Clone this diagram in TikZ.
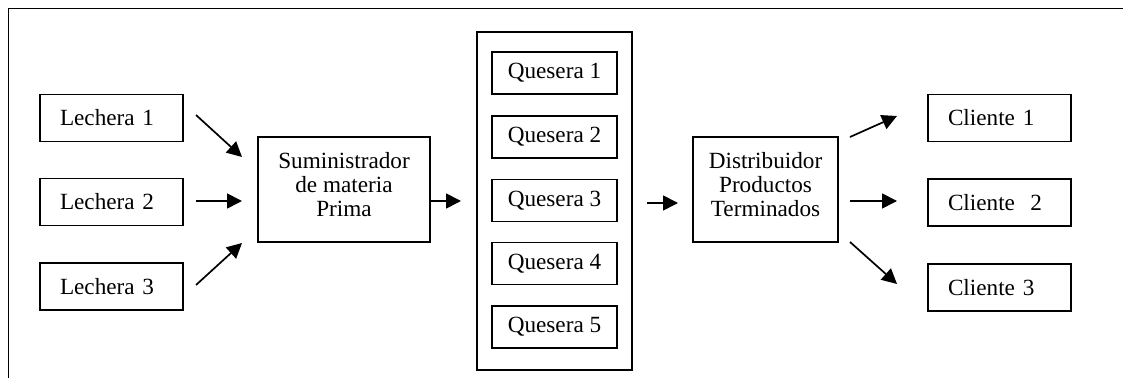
\documentclass[tikz,border=0pt]{standalone}
\usepackage{fontspec}
\setmainfont{Liberation Serif}
\usetikzlibrary{arrows.meta}
\begin{document}
\begin{tikzpicture}[x=0.5pt,y=-0.5pt,
  box/.style={draw, line width=0.8pt, inner sep=0pt, font=\fontsize{11.6}{11.8}\selectfont, align=center},
  lbox/.style={box, minimum width=71.5pt, minimum height=23.5pt, text width=51.5pt, inner xsep=10pt, align=left},
  qbox/.style={box, minimum width=62.5pt, minimum height=21pt},
  bigbox/.style={box, minimum width=86pt, minimum height=52.5pt, text depth=5pt},
  arr/.style={line width=0.85pt, -{Triangle[length=7.5pt,width=7.5pt]}}]
\useasboundingbox (0,0) rectangle (1123,378);
\draw[line width=0.9pt] (8.5,378) -- (8.5,8.5) -- (1123,8.5);
% left column
\node[lbox] (l1) at (111.5,118) {Lechera 1};
\node[lbox] (l2) at (111.5,202) {Lechera 2};
\node[lbox] (l3) at (111.5,286.5) {Lechera 3};
\node[bigbox] (sum) at (344,189.5) {Suministrador\\de materia\\Prima};
% container
\node[box, minimum width=77.5pt, minimum height=169pt] (cont) at (554.5,201) {};
\node[qbox] (q1) at (554.5,73) {Quesera 1};
\node[qbox] (q2) at (554.5,137) {Quesera 2};
\node[qbox] (q3) at (554.5,200.5) {Quesera 3};
\node[qbox] (q4) at (554.5,263.5) {Quesera 4};
\node[qbox] (q5) at (554.5,327) {Quesera 5};
\node[bigbox, minimum width=72.5pt] (dist) at (765.5,189.5) {Distribuidor\\Productos\\Terminados};
\node[lbox] (c1) at (999.5,118) {Cliente 1};
\node[lbox] (c2) at (999.5,202.5) {Cliente\ \ 2};
\node[lbox] (c3) at (999.5,287.5) {Cliente 3};
% arrow end points
\coordinate (a1s) at (196,115); \coordinate (a1e) at (242,157);
\coordinate (a2s) at (196,201); \coordinate (a2e) at (242,201);
\coordinate (a3s) at (196,285); \coordinate (a3e) at (242,243);
\coordinate (a4e) at (461,201);
\coordinate (a5s) at (647,203); \coordinate (a5e) at (678,203);
\coordinate (b1s) at (850,137); \coordinate (b1e) at (897,116);
\coordinate (b2s) at (850,201); \coordinate (b2e) at (897,201);
\coordinate (b3s) at (850,242); \coordinate (b3e) at (897,284);
\draw[arr] (a1s) -- (a1e);
\draw[arr] (a2s) -- (a2e);
\draw[arr] (a3s) -- (a3e);
\draw[arr] (sum.east |- a4e) -- (a4e);
\draw[arr] (a5s) -- (a5e);
\draw[arr] (b1s) -- (b1e);
\draw[arr] (b2s) -- (b2e);
\draw[arr] (b3s) -- (b3e);
\end{tikzpicture}
\end{document}
